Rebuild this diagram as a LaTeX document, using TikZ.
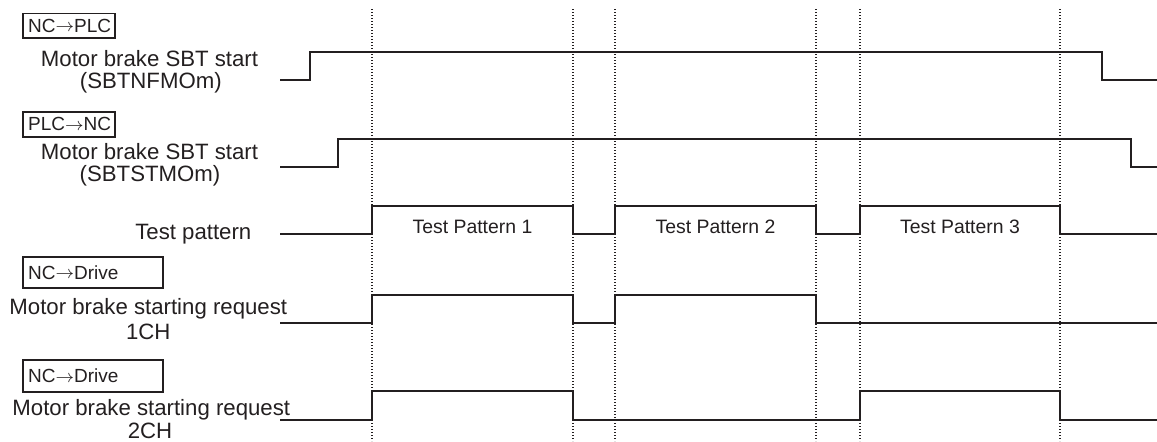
\documentclass[tikz,border=0pt]{standalone}
\usepackage{fontspec}
\setmainfont{Liberation Sans}
\definecolor{ink}{HTML}{231F20}
\newcommand{\dirarrow}{\raisebox{0.2pt}{$\rightarrow$}}
\begin{document}
\begin{tikzpicture}[x=0.5pt,y=-0.5pt,
  sig/.style={line width=1pt, draw=ink, line join=miter},
  gridline/.style={line width=0.6pt, draw=ink, dash pattern=on 0.6pt off 0.9pt},
  lbl/.style={font=\fontsize{11.1}{12}\selectfont, text=ink, inner sep=0pt, anchor=base},
  tp/.style={font=\fontsize{9.7}{11}\selectfont, text=ink, inner sep=0pt, anchor=base},
  dirbox/.style={draw=ink, line width=0.75pt, font=\fontsize{9.5}{11}\selectfont, text=ink,
    anchor=north west, inner xsep=2.75pt, inner ysep=0pt, align=left}
]
\useasboundingbox (0,0) rectangle (1157,441);

% dotted time markers
\foreach \t/\n in {372/a,573/b,615/c,816/d,860/e,1060/f}{
  \coordinate (top\n) at (\t,9);
  \coordinate (bot\n) at (\t,441);
  \draw[gridline] (top\n) -- (bot\n);
}

% direction boxes
\node[dirbox, minimum width=46pt, text width=40.5pt, minimum height=12.25pt] (b1) at (22,12.5) {NC\dirarrow PLC};
\node[dirbox, minimum width=46pt, text width=40.5pt, minimum height=12.5pt] (b2) at (22,111) {PLC\dirarrow NC};
\node[dirbox, minimum width=70pt, text width=64.5pt, minimum height=15.5pt] (b3) at (22,256) {NC\dirarrow Drive};
\node[dirbox, minimum width=70pt, text width=64.5pt, minimum height=16pt] (b4) at (22,359) {NC\dirarrow Drive};

% signal labels
\node[lbl] (l1a) at (149.5,66) {Motor brake SBT start};
\node[lbl] (l1b) at (150.8,88.3) {(SBTNFMOm)};
\node[lbl] (l2a) at (149.5,159.3) {Motor brake SBT start};
\node[lbl] (l2b) at (150,181.7) {(SBTSTMOm)};
\node[lbl] (l3) at (193.3,239.3) {Test pattern};
\node[lbl] (l4a) at (148.3,314.3) {Motor brake starting request};
\node[lbl] (l4b) at (148.3,339.3) {1CH};
\node[lbl] (l5a) at (151.3,415) {Motor brake starting request};
\node[lbl] (l5b) at (150,438.3) {2CH};

% waveforms
\draw[sig] (280,80) -| (310,52.3) -| (1102,80) -- (1157,80);
\draw[sig] (280,166.7) -| (338,139.3) -| (1130.7,166.7) -- (1157,166.7);
\draw[sig] (280,234) -| (372,205.7) -| (573,234) -| (615,205.7) -| (816,234) -| (860,205.7) -| (1060,234) -- (1157,234);
\draw[sig] (280,323.3) -| (372,295) -| (573,323.3) -| (615,295) -| (816,323.3) -- (1157,323.3);
\draw[sig] (280,420) -| (372,390.7) -| (573,420) -| (860,390.7) -| (1060,420) -- (1157,420);

% test pattern names
\node[tp] (tp1) at (472.5,233.3) {Test Pattern 1};
\node[tp] (tp2) at (715.5,233.3) {Test Pattern 2};
\node[tp] (tp3) at (960,233.3) {Test Pattern 3};
\end{tikzpicture}
\end{document}
